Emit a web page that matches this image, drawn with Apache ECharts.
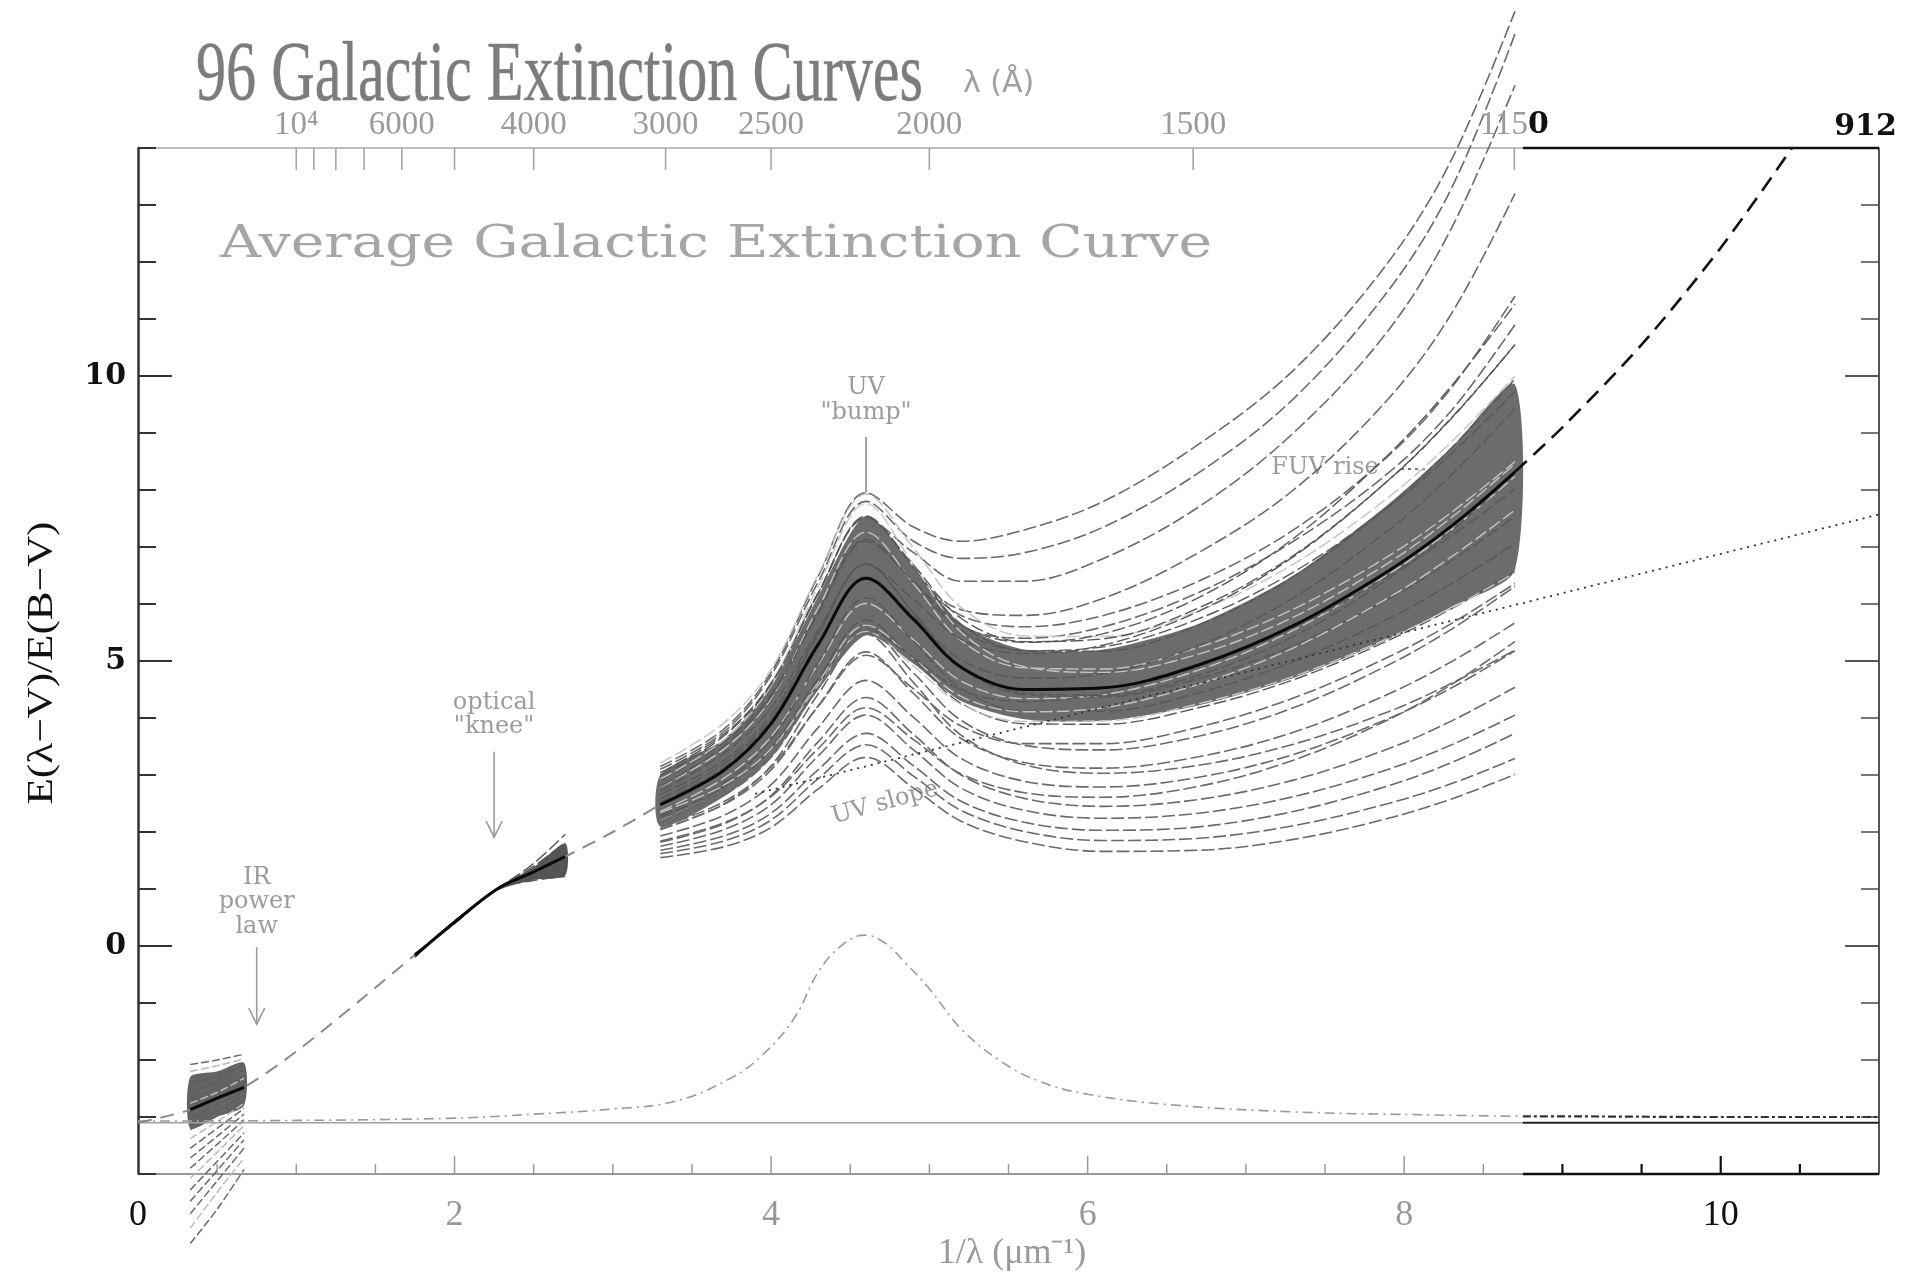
<!DOCTYPE html>
<html><head><meta charset="utf-8">
<script src="https://cdn.jsdelivr.net/npm/echarts@6/dist/echarts.min.js"></script>
<style>html,body{margin:0;padding:0;background:#fff}#c{width:1913px;height:1282px}</style>
</head><body><div id="c"></div>
<script>
// ---------------- DATA ----------------
// UV region (1/lambda in micron^-1)
const uvX = [3.3, 3.7, 4.0, 4.3, 4.6, 4.9, 5.2, 5.6, 6.1, 6.7, 7.3, 7.9, 8.3, 8.7];
const uvMean = [2.48, 3.08, 3.9, 5.3, 6.45, 5.73, 4.89, 4.5, 4.53, 4.93, 5.62, 6.58, 7.37, 8.32];
const uvBandHigh = [3.0, 3.62, 4.55, 6.15, 7.55, 6.65, 5.65, 5.2, 5.2, 5.65, 6.5, 7.75, 8.75, 9.85];
const uvBandLow = [2.1, 2.62, 3.3, 4.5, 5.45, 4.95, 4.3, 3.98, 3.95, 4.22, 4.7, 5.38, 5.95, 6.6];
const uvHigh = [
  [3.15, 3.8, 4.8, 6.5, 7.95, 7.35, 7.1, 7.3, 7.8, 8.8, 10.1, 12.0, 13.8, 16.4],
  [3.1, 3.75, 4.75, 6.4, 7.8, 7.1, 6.8, 6.9, 7.35, 8.3, 9.6, 11.5, 13.3, 16.0],
  [3.0, 3.6, 4.6, 6.2, 7.5, 6.9, 6.4, 6.4, 6.8, 7.7, 9.0, 10.8, 12.6, 15.1],
  [2.9, 3.5, 4.4, 5.9, 7.1, 6.5, 5.9, 5.8, 6.1, 6.9, 8.0, 9.6, 11.1, 13.2],
  [3.0, 3.6, 4.5, 6.0, 7.2, 6.5, 5.8, 5.6, 5.8, 6.4, 7.3, 8.6, 9.8, 11.4],
  [2.8, 3.4, 4.3, 5.8, 7.0, 6.3, 5.6, 5.4, 5.6, 6.2, 7.1, 8.3, 9.4, 10.9]
];
const uvDense = [
  [3.21, 3.91, 4.85, 6.53, 7.93, 6.98, 5.94, 5.44, 5.43, 5.88, 6.70, 7.87, 8.85, 10.0],
  [3.04, 3.71, 4.61, 6.21, 7.54, 6.64, 5.65, 5.18, 5.17, 5.63, 6.48, 7.71, 8.74, 9.95],
  [2.91, 3.57, 4.42, 5.90, 7.14, 6.38, 5.54, 5.18, 5.25, 5.74, 6.56, 7.70, 8.64, 9.73],
  [2.79, 3.45, 4.34, 5.94, 7.26, 6.36, 5.36, 4.88, 4.86, 5.24, 5.91, 6.84, 7.61, 8.50],
  [2.58, 3.19, 3.98, 5.34, 6.48, 5.79, 5.02, 4.70, 4.78, 5.27, 6.11, 7.29, 8.27, 9.43],
  [2.52, 3.13, 3.97, 5.47, 6.71, 5.84, 4.88, 4.41, 4.37, 4.69, 5.27, 6.09, 6.76, 7.54],
  [2.36, 2.94, 3.67, 4.95, 6.01, 5.37, 4.65, 4.34, 4.41, 4.84, 5.54, 6.52, 7.31, 8.24],
  [2.29, 2.86, 3.62, 4.98, 6.11, 5.35, 4.52, 4.12, 4.12, 4.44, 4.99, 5.74, 6.36, 7.06],
  [2.66, 3.25, 4.05, 5.50, 6.70, 5.85, 4.91, 4.44, 4.40, 4.75, 5.43, 6.44, 7.29, 8.29],
  [2.19, 2.74, 3.43, 4.63, 5.63, 5.04, 4.38, 4.11, 4.18, 4.59, 5.23, 6.11, 6.83, 7.65],
  [2.72, 3.38, 4.18, 5.55, 6.69, 6.08, 5.38, 5.13, 5.28, 5.87, 6.83, 8.17, 9.27, 10.55],
  [2.26, 2.78, 3.47, 4.70, 5.72, 5.03, 4.26, 3.90, 3.89, 4.18, 4.67, 5.36, 5.92, 6.57],
  [2.93, 3.61, 4.57, 6.32, 7.76, 6.69, 5.51, 4.90, 4.80, 5.12, 5.77, 6.72, 7.52, 8.46],
  [2.18, 2.74, 3.43, 4.59, 5.56, 5.06, 4.49, 4.29, 4.44, 4.90, 5.58, 6.49, 7.20, 8.02],
  [2.80, 3.50, 4.37, 5.85, 7.10, 6.40, 5.63, 5.33, 5.48, 6.11, 7.15, 8.62, 9.83, 11.26],
  [2.34, 2.82, 3.46, 4.58, 5.52, 4.91, 4.24, 3.94, 3.95, 4.25, 4.73, 5.40, 5.93, 6.55],
  [2.98, 3.68, 4.59, 6.19, 7.52, 6.68, 5.75, 5.34, 5.39, 5.93, 6.85, 8.17, 9.26, 10.55]
];
const uvLow = [
  [2.17, 2.64, 3.31, 4.54, 5.55, 4.79, 3.96, 3.52, 3.44, 3.68, 4.18, 4.93, 5.56, 6.31],
  [2.05, 2.48, 3.09, 4.22, 5.16, 4.43, 3.64, 3.22, 3.12, 3.32, 3.75, 4.42, 4.99, 5.67],
  [1.93, 2.29, 2.83, 3.84, 4.66, 4.01, 3.29, 2.89, 2.79, 2.96, 3.36, 3.99, 4.53, 5.18],
  [1.82, 2.14, 2.64, 3.59, 4.36, 3.71, 3.00, 2.59, 2.45, 2.57, 2.91, 3.46, 3.95, 4.54],
  [1.75, 2.04, 2.48, 3.34, 4.05, 3.44, 2.77, 2.38, 2.24, 2.33, 2.62, 3.10, 3.53, 4.05],
  [1.68, 1.93, 2.33, 3.10, 3.73, 3.16, 2.54, 2.17, 2.03, 2.09, 2.36, 2.81, 3.22, 3.73],
  [1.62, 1.84, 2.21, 2.94, 3.53, 2.98, 2.38, 2.01, 1.85, 1.89, 2.11, 2.50, 2.85, 3.29],
  [1.55, 1.74, 2.08, 2.76, 3.31, 2.77, 2.19, 1.83, 1.66, 1.68, 1.87, 2.24, 2.58, 3.01],
  [1.84, 2.16, 2.62, 3.47, 4.18, 3.62, 3.02, 2.69, 2.61, 2.80, 3.26, 3.97, 4.59, 5.34],
  [2.04, 2.49, 3.16, 4.43, 5.47, 4.62, 3.70, 3.18, 3.03, 3.17, 3.54, 4.11, 4.61, 5.19],
  [2.08, 2.53, 3.14, 4.21, 5.10, 4.51, 3.86, 3.55, 3.55, 3.84, 4.35, 5.07, 5.66, 6.36]
];
// IR region
const irX = [0.33, 0.5, 0.67];
const irMean = [-2.87, -2.67, -2.48];
const irBandHigh = [-2.3, -2.2, -2.05];
const irBandLow = [-3.2, -3.0, -2.8];
const irCurves = [
  [-2.08, -2.0, -1.9], [-2.2, -2.1, -1.98], [-2.35, -2.22, -2.06], [-2.5, -2.34, -2.14],
  [-2.62, -2.45, -2.22], [-2.76, -2.57, -2.32], [-2.95, -2.74, -2.5], [-3.08, -2.84, -2.58],
  [-3.22, -2.95, -2.66], [-3.38, -3.08, -2.76], [-3.55, -3.2, -2.85], [-3.72, -3.34, -2.95],
  [-3.9, -3.48, -3.05], [-4.08, -3.62, -3.15], [-4.28, -3.78, -3.28], [-4.48, -3.94, -3.4],
  [-4.7, -4.12, -3.55], [-4.95, -4.32, -3.72], [-5.22, -4.62, -3.92]
];
// Optical region
const optX = [1.75, 1.82, 2.0, 2.27, 2.5, 2.7];
const optMean = [-0.16, 0.0, 0.42, 1.0, 1.3, 1.57];
const optBandHigh = [-0.13, 0.03, 0.45, 1.03, 1.38, 1.8];
const optBandLow = [-0.2, -0.03, 0.38, 0.97, 1.16, 1.24];
const optCurves = [
  [-0.13, 0.0, 0.44, 1.0, 1.45, 1.96], [-0.14, 0.0, 0.43, 1.0, 1.4, 1.82],
  [-0.15, 0.0, 0.43, 1.0, 1.36, 1.72], [-0.16, 0.0, 0.42, 1.0, 1.32, 1.63],
  [-0.17, 0.0, 0.41, 1.0, 1.27, 1.5], [-0.18, 0.0, 0.41, 1.0, 1.24, 1.42],
  [-0.19, 0.0, 0.40, 1.0, 1.2, 1.33], [-0.2, 0.0, 0.39, 1.0, 1.15, 1.22]
];
// Average curve (dashed, bridging the gaps) and its FUV extrapolation
const avgX = [0, 0.19, 0.33, 0.5, 0.67, 1.0, 1.44, 1.76, 1.82, 2.0, 2.27, 2.5, 2.7, 3.0, 3.3];
const avgY = [-3.1, -2.98, -2.87, -2.67, -2.48, -1.85, -0.87, -0.13, 0.0, 0.42, 1.0, 1.3, 1.57, 2.0, 2.48];
const extX = [8.7, 9.0, 9.5, 10.0, 10.45];
const extY = [8.32, 9.1, 10.55, 12.25, 14.0];
// UV linear slope (dotted)
const slopeX = [3.9, 11.0];
const slopeY = [2.67, 7.57];
// Bump profile (dash-dot)
const bumpX = [0, 1.0, 2.0, 2.5, 3.0, 3.4, 3.75, 3.95, 4.15, 4.3, 4.45, 4.59, 4.72, 4.85, 5.0, 5.2, 5.45, 5.7, 6.0, 6.5, 7.3, 8.1, 8.75, 9.0, 10.0, 11.0];
const bumpY = [-3.07, -3.06, -3.02, -2.95, -2.86, -2.72, -2.31, -1.9, -1.25, -0.45, 0.02, 0.19, 0.05, -0.3, -0.75, -1.45, -2.02, -2.38, -2.6, -2.78, -2.91, -2.96, -2.99, -2.99, -3.0, -3.0];
// -R(V) reference line
const refX = [0, 8.75, 11];
const refY = [-3.1, -3.1, -3.1];
// Axis ticks / labels
const yMajorTicks = [0, 5, 10];
const xMajorTicks = [0, 2, 4, 6, 8, 10];
const topTickLambda = [10000, 9000, 8000, 7000, 6000, 5000, 4000, 3000, 2500, 2000, 1500, 1150];
const topLabelLambda = [10000, 6000, 4000, 3000, 2500, 2000, 1500, 1150, 912];
const topLabelText = ['10⁴', '6000', '4000', '3000', '2500', '2000', '1500', '{g|115}{k|0}', '{k|912}'];
const splitX = 8.75; // where the composite turns from grey to black
// Annotations (data coordinates)
const notes = [
  {t: 'UV', x: 4.6, y: 9.79}, {t: '"bump"', x: 4.6, y: 9.36},
  {t: 'optical', x: 2.25, y: 4.27}, {t: '"knee"', x: 2.25, y: 3.84},
  {t: 'IR', x: 0.75, y: 1.2}, {t: 'power', x: 0.75, y: 0.77}, {t: 'law', x: 0.75, y: 0.34},
  {t: 'FUV rise', x: 7.5, y: 8.39}
];

// ---------------- CHART ----------------
const chart = echarts.init(document.getElementById('c'), null, {renderer: 'canvas'});
const G = {left: 138, top: 148, width: 1741, height: 1026};
const series = [];
function addLine(xs, ys, color, width, type, z, smooth) {
  series.push({
    type: 'line', data: xs.map((x, i) => [x, ys[i]]), symbol: 'none', showSymbol: false,
    smooth: smooth === undefined ? 0.35 : smooth, clip: false, silent: true,
    animation: false, z: z, lineStyle: {color: color, width: width, type: type}, emphasis: {disabled: true}
  });
}
function band(xs, hi, lo, color, z) {
  series.push({
    type: 'custom', data: [[xs[0], hi[0]]], silent: true, clip: false, z: z, animation: false,
    renderItem: function (p, api) {
      const pts = xs.map((x, i) => api.coord([x, hi[i]]));
      for (let i = xs.length - 1; i >= 0; i--) pts.push(api.coord([xs[i], lo[i]]));
      return {type: 'polygon', shape: {points: pts, smooth: 0.25}, style: {fill: color}};
    }
  });
}
band(uvX, uvBandHigh, uvBandLow, '#6c6c6c', 2);
band(irX, irBandHigh, irBandLow, '#626262', 2);
band(optX, optBandHigh, optBandLow, '#555555', 2);

const dash = [13, 4];
uvHigh.forEach(c => addLine(uvX, c, '#6a6a6a', 1.6, dash, 3));
uvDense.forEach((c, i) => addLine(uvX, c, i % 3 === 0 ? '#c4c4c4' : '#585858', 1.4, dash, 3));
uvLow.forEach(c => addLine(uvX, c, '#6a6a6a', 1.6, dash, 3));
irCurves.forEach((c, i) => addLine(irX, c, i % 4 === 1 ? '#bbbbbb' : '#6a6a6a', 1.5, [8, 3], 3, 0.2));
optCurves.forEach(c => addLine(optX, c, '#555', 1.4, dash, 3));

addLine(refX.slice(0, 2), refY.slice(0, 2), '#a0a0a0', 1.6, 'solid', 4, 0);
addLine(refX.slice(1), refY.slice(1), '#222', 2, 'solid', 4, 0);
const bi = bumpX.findIndex(x => x >= splitX);
addLine(bumpX.slice(0, bi + 1), bumpY.slice(0, bi + 1), '#9a9a9a', 1.6, [10, 5, 2, 5], 4, 0.4);
addLine(bumpX.slice(bi), bumpY.slice(bi), '#333', 2.2, [8, 3, 3, 3], 4, 0.4);
addLine(slopeX, slopeY, '#333', 1.8, [2, 5], 4, 0);
addLine(avgX, avgY, '#8a8a8a', 2, [14, 9], 4, 0.3);
addLine(extX, extY, '#111', 2.6, [16, 9], 5, 0.3);
addLine(uvX, uvMean, '#0a0a0a', 3, 'solid', 6);
addLine(irX, irMean, '#0a0a0a', 3, 'solid', 6, 0.2);
addLine(optX, optMean, '#0a0a0a', 3, 'solid', 6);

// frame overlays: ticks, top axis, black segments of composite
series.push({
  type: 'custom', data: [[0, 0]], silent: true, clip: false, z: 8, animation: false,
  renderItem: function (p, api) {
    const ch = [];
    const ln = (a, b, c, w) => ch.push({type: 'line', shape: {x1: a[0], y1: a[1], x2: b[0], y2: b[1]}, style: {stroke: c, lineWidth: w}});
    for (let v = 0.5; v < 11; v += 0.5) {
      const q = api.coord([v, -4]);
      const major = xMajorTicks.indexOf(v) >= 0;
      const dark = v > splitX;
      ln(q, [q[0], q[1] - (major ? 18 : 10)], dark ? '#111' : '#9a9a9a', dark ? 2.2 : 1.5);
    }
    yMajorTicks.forEach(v => {
      const a = api.coord([0, v]), b = api.coord([11, v]);
      ln(a, [a[0] + 34, a[1]], '#333', 2.2);
      ln(b, [b[0] - 34, b[1]], '#555', 2);
    });
    ln(api.coord([splitX, -4]), api.coord([11, -4]), '#111', 2.6);
    ln(api.coord([splitX, 14]), api.coord([11, 14]), '#111', 2.6);
    topTickLambda.forEach(l => {
      const q = api.coord([10000 / l, 14]);
      ln(q, [q[0], q[1] + 22], '#a0a0a0', 1.5);
    });
    topLabelLambda.forEach((l, i) => {
      const q = api.coord([10000 / l, 14]);
      ch.push({type: 'text', x: q[0] + (l === 912 ? -8 : 0), y: q[1] - 6, style: {
        text: topLabelText[i], fill: '#9a9a9a', font: '33px "Liberation Serif"', align: 'center', verticalAlign: 'bottom',
        rich: {g: {fill: '#9a9a9a', font: '33px "Liberation Serif"'}, k: {fill: '#111', font: 'bold 30px "DejaVu Serif"'}}
      }});
    });
    return {type: 'group', children: ch};
  }
});

const option = {
  animation: false,
  backgroundColor: '#ffffff',
  grid: Object.assign({outerBoundsMode: 'none', containLabel: false}, G),
  xAxis: [
    {type: 'value', min: 0, max: 11, interval: 0.5, position: 'bottom',
      axisLine: {onZero: false, lineStyle: {color: '#9a9a9a', width: 2}},
      axisTick: {show: false}, splitLine: {show: false},
      axisLabel: {margin: 24, hideOverlap: false, showMinLabel: true, showMaxLabel: true,
        formatter: function (v) {
          if (Math.abs(v % 2) > 1e-9 || v > 10) return '';
          return (v === 0 || v === 10) ? '{k|' + v + '}' : '{g|' + v + '}';
        },
        rich: {k: {color: '#111', fontFamily: 'Liberation Serif', fontSize: 36},
               g: {color: '#999', fontFamily: 'Liberation Serif', fontSize: 36}}}},
    {type: 'value', min: 0, max: 11, position: 'top',
      axisLine: {onZero: false, lineStyle: {color: '#a8a8a8', width: 1.6}},
      axisTick: {show: false}, axisLabel: {show: false}, splitLine: {show: false}}
  ],
  yAxis: [
    {type: 'value', min: -4, max: 14, interval: 1, position: 'left',
      axisLine: {show: true, onZero: false, lineStyle: {color: '#333', width: 2.5}},
      axisTick: {show: true, inside: true, length: 18, lineStyle: {color: '#333', width: 2}},
      splitLine: {show: false},
      axisLabel: {margin: 12, hideOverlap: false, color: '#111', fontFamily: 'DejaVu Serif', fontWeight: 'bold', fontSize: 30,
        formatter: v => (yMajorTicks.indexOf(v) >= 0 ? String(v) : '')}},
    {type: 'value', min: -4, max: 14, interval: 1, position: 'right',
      axisLine: {show: true, onZero: false, lineStyle: {color: '#555', width: 2}},
      axisTick: {show: true, inside: true, length: 18, lineStyle: {color: '#555', width: 1.6}},
      splitLine: {show: false}, axisLabel: {show: false}}
  ],
  series: series
};
chart.setOption(option);

// ---------------- TEXT / ANNOTATIONS ----------------
const ctx = document.createElement('canvas').getContext('2d');
function tw(font, s) { ctx.font = font; return ctx.measureText(s).width; }
const px = (x, y) => chart.convertToPixel({gridIndex: 0}, [x, y]);
const noteFont = '24px "DejaVu Serif"';
const noteCol = '#9c9c9c';
const gr = [];
const titleFont = '84px "Liberation Serif"';
const titleTxt = '96 Galactic Extinction Curves';
gr.push({type: 'text', x: 196, y: 78, z: 1, scaleX: 727 / tw(titleFont, titleTxt),
  style: {text: titleTxt, font: titleFont, fill: '#7c7c7c', stroke: '#9a9a9a', lineWidth: 0.6, align: 'left', verticalAlign: 'middle'}});
gr.push({type: 'text', x: 963, y: 84, z: 1, style: {text: 'λ (Å)', font: '30px "DejaVu Sans"', fill: '#a0a0a0', align: 'left', verticalAlign: 'middle'}});
const avgFont = '44px "DejaVu Serif"';
const avgTxt = 'Average Galactic Extinction Curve';
gr.push({type: 'text', x: 220, y: 246, z: 1, scaleX: 992 / tw(avgFont, avgTxt),
  style: {text: avgTxt, font: avgFont, fill: '#a6a6a6', align: 'left', verticalAlign: 'middle'}});
const yTitFont = '36px "Liberation Serif"';
const yTit = 'E(λ−V)/E(B−V)';
gr.push({type: 'text', x: 43, y: 663, z: 1, rotation: Math.PI / 2, scaleX: 283 / tw(yTitFont, yTit),
  style: {text: yTit, font: yTitFont, fill: '#111', align: 'center', verticalAlign: 'middle'}});
gr.push({type: 'text', x: 1012, y: 1254, z: 1,
  style: {text: '1/λ (μm⁻¹)', font: '36px "Liberation Serif"', fill: '#9a9a9a', align: 'center', verticalAlign: 'middle'}});
notes.forEach(n => {
  const q = px(n.x, n.y);
  gr.push({type: 'text', x: q[0], y: q[1], z: 1, style: {text: n.t, font: noteFont, fill: noteCol, align: 'center', verticalAlign: 'middle'}});
});
function arrow(x, y1, y2) {
  const a = px(x, y1), b = px(x, y2);
  gr.push({type: 'line', z: 1, shape: {x1: a[0], y1: a[1], x2: b[0], y2: b[1]}, style: {stroke: noteCol, lineWidth: 1.6}});
  gr.push({type: 'polyline', z: 1, shape: {points: [[b[0] - 8, b[1] - 16], [b[0], b[1]], [b[0] + 8, b[1] - 16]]}, style: {stroke: noteCol, lineWidth: 1.6, fill: null}});
}
arrow(2.25, 3.41, 1.91);
arrow(0.75, -0.02, -1.37);
(function () {
  const a = px(4.6, 8.93), b = px(4.6, 7.95);
  gr.push({type: 'line', z: 1, shape: {x1: a[0], y1: a[1], x2: b[0], y2: b[1]}, style: {stroke: '#8a8a8a', lineWidth: 1.6}});
  const c = px(7.98, 8.37), d = px(8.5, 8.35);
  gr.push({type: 'line', z: 1, shape: {x1: c[0], y1: c[1], x2: d[0], y2: d[1]}, style: {stroke: '#777', lineWidth: 2, lineDash: [3, 4]}});
  gr.push({type: 'polyline', z: 1, shape: {points: [[d[0] - 12, d[1] - 6], [d[0], d[1]], [d[0] - 12, d[1] + 6]]}, style: {stroke: '#777', lineWidth: 2, fill: null}});
  const s = px(4.72, 2.51);
  gr.push({type: 'text', x: s[0], y: s[1], z: 1, rotation: 0.27, style: {text: 'UV slope', font: noteFont, fill: noteCol, align: 'center', verticalAlign: 'middle'}});
})();
chart.setOption({graphic: gr});
</script></body></html>
